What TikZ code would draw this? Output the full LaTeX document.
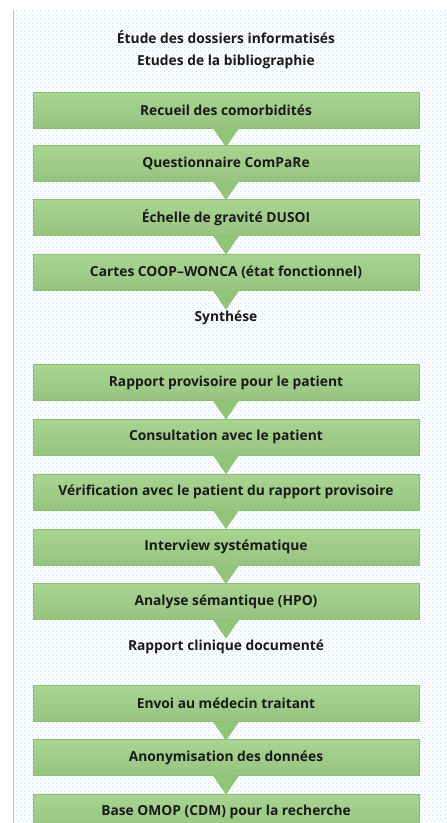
\documentclass[tikz,border=0pt]{standalone}
\usepackage{fontspec}
\setmainfont{Open Sans}
\usetikzlibrary{patterns,calc}
\pgfdeclarepatternformonly{bgdots}{\pgfqpoint{0pt}{0pt}}{\pgfqpoint{4pt}{4pt}}{\pgfqpoint{4pt}{4pt}}{%
  \pgfpathcircle{\pgfqpoint{1pt}{1pt}}{0.75pt}\pgfusepath{fill}%
  \pgfpathcircle{\pgfqpoint{3pt}{3pt}}{0.5pt}\pgfusepath{fill}}
\definecolor{boxtop}{HTML}{A9D492}
\definecolor{boxbot}{HTML}{96C47F}
\definecolor{boxedge}{HTML}{8CBD74}
\definecolor{arrowfill}{HTML}{91C479}
\definecolor{dotcol}{HTML}{B2C6D9}
\definecolor{txt}{HTML}{1A1A1A}
\tikzset{
  stepbox/.style={rectangle, minimum width=386pt, minimum height=36pt, inner sep=0pt,
    top color=boxtop, bottom color=boxbot, draw=boxedge, line width=0.4pt,
    text=txt, font=\fontsize{13.8}{15}\selectfont\bfseries},
  plainlabel/.style={text=txt, font=\fontsize{13.8}{15}\selectfont\bfseries, inner sep=0pt},
  downarrow/.style={fill=arrowfill, draw=none}
}
\newcommand{\downarr}[1]{%
  \fill[downarrow] ($(#1.south)+(-13,0)$) -- ($(#1.south)+(13,0)$) -- ($(#1.south)+(0,19)$) -- cycle;}
\begin{document}
\begin{tikzpicture}[x=1pt,y=-1pt]
\useasboundingbox (0,0) rectangle (447,823);
\fill[white] (0,0) rectangle (447,823);
\fill[pattern=bgdots, pattern color=dotcol] (13,10) rectangle (447,823);
\draw[dotcol, line width=0.6pt] (13,10) -- (13,823);

\node[plainlabel] (t1) at (226,37) {Étude des dossiers informatisés};
\node[plainlabel] (t2) at (226,62) {Etudes de la bibliographie};

\node[stepbox] (b1) at (226,110) {Recueil des comorbidités};
\node[stepbox] (b2) at (226,163) {Questionnaire ComPaRe};
\node[stepbox] (b3) at (226,217.5) {Échelle de gravité DUSOI};
\node[stepbox] (b4) at (226,272.5) {Cartes COOP–WONCA (état fonctionnel)};
\node[plainlabel] (s1) at (226,318) {Synthése};

\node[stepbox] (b5) at (226,382.5) {Rapport provisoire pour le patient};
\node[stepbox] (b6) at (226,437) {Consultation avec le patient};
\node[stepbox] (b7) at (226,492) {Vérification avec le patient du rapport provisoire};
\node[stepbox] (b8) at (226,547) {Interview systématique};
\node[stepbox] (b9) at (226,601.5) {Analyse sémantique (HPO)};
\node[plainlabel] (s2) at (226,647) {Rapport clinique documenté};

\node[stepbox] (b10) at (226,703.5) {Envoi au médecin traitant};
\node[stepbox] (b11) at (226,757.5) {Anonymisation des données};
\node[stepbox] (b12) at (226,812) {Base OMOP (CDM) pour la recherche};

\downarr{b1}
\downarr{b2}
\downarr{b3}
\downarr{b4}
\downarr{b5}
\downarr{b6}
\downarr{b7}
\downarr{b8}
\downarr{b9}
\downarr{b10}
\downarr{b11}
\end{tikzpicture}
\end{document}
